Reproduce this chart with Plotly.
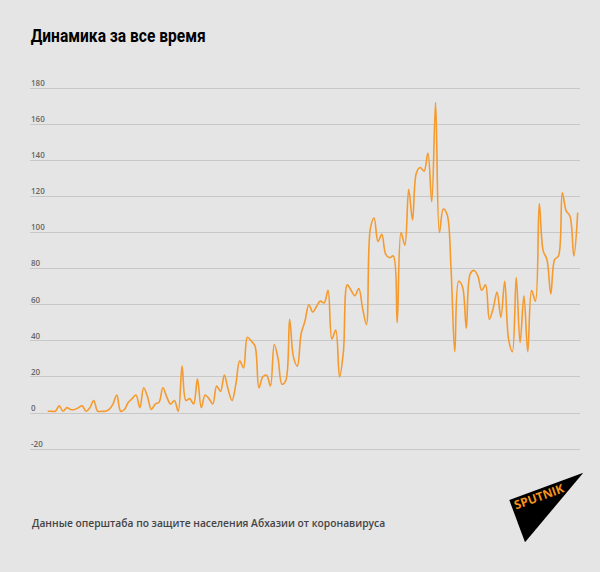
import plotly.graph_objects as go

# values, one per day
day = list(range(139))
cases = [1, 1, 1, 4, 1, 3, 2, 2, 3, 4,
         1, 3, 7, 1, 1, 1, 2, 5, 10, 1,
         2, 6, 8, 10, 3, 14, 9, 2, 5, 6,
         14, 9, 5, 7, 1, 26, 7, 8, 5, 19,
         3, 10, 8, 5, 15, 12, 21, 13, 7, 16,
         29, 25, 42, 40, 37, 14, 20, 21, 15, 38,
         30, 16, 18, 52, 31, 26, 44, 51, 60, 56,
         59, 62, 61, 68, 41, 46, 20, 34, 71, 68,
         65, 69, 58, 49, 102, 108, 95, 99, 88, 86,
         87, 50, 100, 93, 124, 107, 133, 136, 134, 144,
         117, 172, 100, 113, 110, 81, 34, 73, 70, 47,
         77, 79, 76, 68, 71, 52, 58, 67, 53, 73,
         41, 34, 75, 39, 65, 34, 68, 62, 116, 90,
         85, 66, 85, 87, 122, 112, 109, 87, 111]
y_ticks = [-20, 0, 20, 40, 60, 80, 100, 120, 140, 160, 180]

title = "Динамика за все время"
source = "Данные оперштаба по защите населения Абхазии от коронавируса"

W, H = 600, 572
L, R, T, B = 30, 20, 70, 121

# page pixels to paper coordinates, for the title, source and logo
def px(x):
    return (x - L) / (W - L - R)

def py(y):
    return (H - B - y) / (H - T - B)

fig = go.Figure()
fig.add_trace(go.Scatter(x=day, y=cases, mode="lines",
                         line=dict(color="#f59a2e", width=1.6, shape="spline", smoothing=1.0),
                         hoverinfo="skip"))

fig.update_layout(
    width=W, height=H, autosize=False,
    paper_bgcolor="#e5e5e5", plot_bgcolor="#e5e5e5",
    margin=dict(l=L, r=R, t=T, b=B, pad=0),
    showlegend=False,
    font=dict(family="Open Sans", color="#666666"),
)
fig.update_xaxes(range=[-4.6, 138.6], showgrid=False, zeroline=False, showticklabels=False)
fig.update_yaxes(range=[-21, 190], tickvals=y_ticks, ticktext=[str(t) for t in y_ticks],
                 showgrid=True, gridcolor="#c8c8c8", gridwidth=1,
                 zeroline=True, zerolinecolor="#c8c8c8", zerolinewidth=1,
                 ticklabelposition="inside", ticklabelshift=-5, ticklabelstandoff=-2,
                 ticks="", tickfont=dict(size=8, family="Open Sans", color="#666666", weight=600))

fig.add_annotation(text=title, xref="paper", yref="paper", x=px(30), y=py(35),
                   xanchor="left", yanchor="middle", showarrow=False, xshift=-15.5,
                   font=dict(family="Roboto", size=18, color="#000000", weight=700))
fig.add_annotation(text=source, xref="paper", yref="paper", x=px(30), y=py(523),
                   xanchor="left", yanchor="middle", showarrow=False,
                   font=dict(family="Open Sans", size=10.25, color="#444444", weight=600))

# logo
fig.add_shape(type="path", xref="paper", yref="paper", fillcolor="#000000", line_width=0,
              path=f"M {px(509.3)} {py(500)} L {px(583.3)} {py(472.7)} L {px(525)} {py(542.3)} Z")
fig.add_annotation(text="SPUTNIK", xref="paper", yref="paper", x=px(539), y=py(496.5),
                   xanchor="center", yanchor="middle", showarrow=False, textangle=-20,
                   font=dict(family="Open Sans", size=12, color="#f7941d", weight=700))

# no page margin; narrow the title to the condensed width of the original
post = """
document.body.style.margin='0';
document.body.style.overflow='hidden';
var t = document.querySelector('.annotation-text');
t.setAttribute('textLength', '175');
t.setAttribute('lengthAdjust', 'spacingAndGlyphs');
"""
fig.write_html("out.html", post_script=post, config=dict(displayModeBar=False))
